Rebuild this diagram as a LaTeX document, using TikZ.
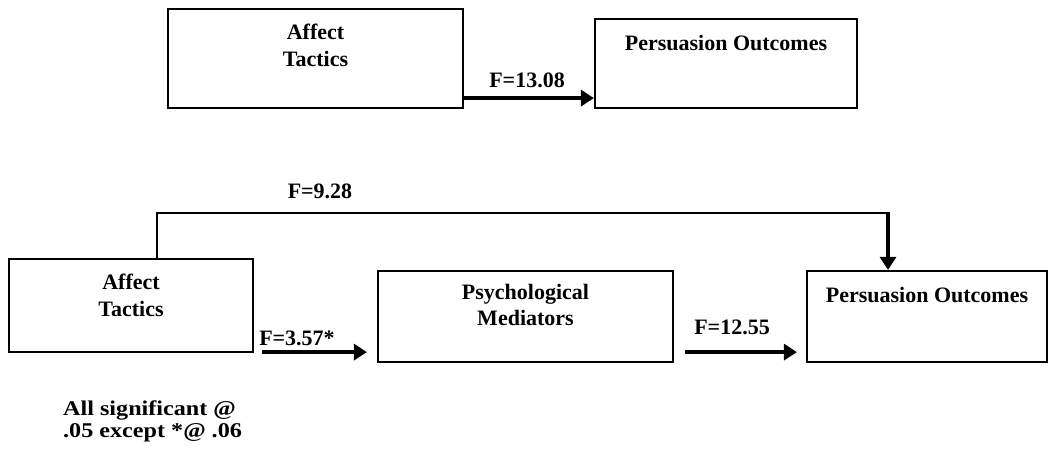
\documentclass[tikz,border=0pt]{standalone}
\usepackage{fontspec}
\setmainfont{Liberation Serif}
\newfontfamily\notefont[FakeStretch=1.15]{Liberation Serif}
\usetikzlibrary{arrows.meta,calc}
\begin{document}
\begin{tikzpicture}[x=1pt,y=-1pt,
  box/.style={draw=black,line width=2.2pt,rectangle,inner sep=0pt},
  boxtext/.style={font=\fontsize{22}{26.5}\selectfont\bfseries,align=center,inner sep=0pt,anchor=north},
  flab/.style={font=\fontsize{22}{26}\selectfont\bfseries,inner sep=0pt},
  thickarrow/.style={line width=4.5pt,-{Triangle[length=13pt,width=16pt]}},
  thinline/.style={line width=2pt},
]
\useasboundingbox (0,0) rectangle (1048,458);
% top row
\node[box,minimum width=295pt,minimum height=99pt] (at1) at (315.5,58.5) {};
\node[boxtext] (at1t) at ([yshift=-16pt]at1.north) {Affect\\Tactics};
\node[box,minimum width=262pt,minimum height=89pt] (po1) at (726,63.5) {};
\node[boxtext] (po1t) at ([yshift=-17pt]po1.north) {Persuasion Outcomes};
\draw[thickarrow] ([yshift=11pt]at1.south east) -- ([yshift=11pt]po1.south west);
\node[flab] (f1) at (527,80) {F=13.08};
% bottom row
\node[box,minimum width=244pt,minimum height=93pt] (at2) at (131,305.5) {};
\node[boxtext] (at2t) at ([yshift=-16pt]at2.north) {Affect\\Tactics};
\node[box,minimum width=295pt,minimum height=91pt] (pm) at (525.5,316.5) {};
\node[boxtext] (pmt) at ([yshift=-14pt]pm.north) {Psychological\\Mediators};
\node[box,minimum width=240pt,minimum height=91pt] (po2) at (927,316.5) {};
\node[boxtext] (po2t) at ([yshift=-17pt]po2.north) {Persuasion Outcomes};
% direct path
\coordinate (c1) at ([xshift=26pt]at2.north);
\coordinate (c2) at (157,213);
\coordinate (c3) at (888,213);
\coordinate (c4) at ([xshift=-39pt]po2.north);
\draw[thinline] (c1) -- (c2) -- (c3);
\draw[line width=4pt,-{Triangle[length=13pt,width=16pt]}] ([yshift=1pt]c3) -- (c4);
\node[flab] (f2) at (320,191) {F=9.28};
% mediated arrows
\coordinate (a1) at ([xshift=8pt,yshift=1pt]at2.south east);
\coordinate (a2) at ([xshift=-10pt]pm.west |- a1);
\draw[thickarrow] (a1) -- (a2);
\node[flab] (f3) at (297,338) {F=3.57*};
\coordinate (b1) at ([xshift=11pt]pm.east |- a1);
\coordinate (b2) at ([xshift=-9pt]po2.west |- a1);
\draw[thickarrow] (b1) -- (b2);
\node[flab] (f4) at (732,327) {F=12.55};
% note
\node[font=\notefont\fontsize{21}{22}\selectfont\bfseries,align=left,anchor=north west,inner sep=0pt] (note) at (63,401) {All significant @\\.05 except *@ .06};
\end{tikzpicture}
\end{document}
